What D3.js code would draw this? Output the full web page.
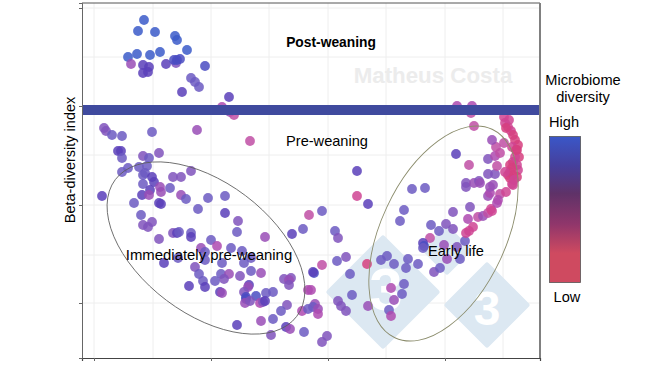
<!DOCTYPE html>
<html>
<head>
<meta charset="utf-8">
<script src="https://cdn.jsdelivr.net/npm/d3@7"></script>
<style>
  body { margin: 0; background: #fff; }
  text { font-family: "Liberation Sans", Arial, sans-serif; }
</style>
</head>
<body>
<div id="chart"></div>
<script>
// each point is [axis 1, axis 2, diversity score 1-10]
const postWeaning = [
  [140,251,4],[148,246,5],[152,243,3],
  [62,338,10],[56,327,10],[73,326,10],[93,322,10],[95,318,10],[105,308,10],[46,301,10],
  [55,304,10],[68,303,10],[78,306,10],[49,294,5],[94,295,6],[61,293,8],[67,291,8],[61,285,8],
  [66,286,8],[84,294,8],[92,298,9],[95,298,9],[98,299,9],[123,292,9],[109,280,7],[113,276,7],
  [117,271,7],[100,266,8],[147,261,8]
];
const preWeaning = [
  [22,230,6],[24,227,6],[30,223,7],[40,222,7],[70,226,7],[115,228,5],[168,217,3],[36,207,8],
  [39,207,8],[40,200,7],[61,202,6],[67,200,7],[77,205,6],[57,191,7],[65,192,7],[46,190,7],
  [40,186,7],[61,183,7],[63,185,7],[70,181,8],[91,181,6],[99,181,6],[109,187,6],[20,162,8],
  [61,174,7],[72,176,8],[68,168,8],[60,163,8],[67,163,5],[78,171,5],[79,166,5],[88,170,7],
  [99,163,5],[104,159,7],[126,160,7],[143,162,7],[52,155,7],[77,155,8],[79,154,8],[116,149,7],
  [143,145,8],[59,143,7],[156,137,6],[70,136,6],[61,133,6],[66,131,6],[155,126,7],[91,125,6],
  [95,125,8],[97,126,7],[109,125,7],[109,121,8],[77,119,6],[183,121,5],[129,118,7],[135,112,4],
  [119,110,5],[149,110,7],[160,107,7],[123,106,7],[169,100,7],[96,100,7],[82,95,8],[123,98,7],
  [140,95,7],[162,95,7],[113,91,6],[169,87,7],[179,85,5],[117,84,7],[139,84,7],[147,84,5],
  [158,82,6],[142,79,6],[133,77,7],[121,77,7],[107,72,8],[123,71,8],[202,79,6],[209,80,6],
  [207,78,5],[207,73,6],[167,73,8],[166,71,5],[162,66,6],[138,66,8],[140,65,5],[184,65,7],
  [191,66,7],[174,62,9],[164,61,9],[164,59,9],[163,55,5],[168,57,6],[178,55,4],[181,56,6],
  [183,57,8],[205,53,6],[199,47,7],[220,47,4],[226,49,7],[191,39,7],[179,37,5],[155,33,8],
  [204,31,8],[208,29,5],[189,23,6],[222,26,7],[210,124,8],[221,129,7],[227,143,3],[226,68,4]
];
const earlyLife = [
  [240,147,7],[253,127,7],[256,120,6],[255,97,7],[264,101,6],[240,93,3],[268,84,7],[285,94,1],
  [299,98,7],[305,102,7],[312,94,7],[326,99,7],[324,90,7],[336,94,7],[318,137,7],[322,148,7],
  [349,133,7],[364,134,6],[357,127,7],[371,129,6],[348,120,3],[341,115,8],[342,112,9],[341,110,7],
  [362,113,5],[375,111,6],[383,117,7],[365,99,5],[378,99,7],[352,86,6],[358,90,7],[322,74,7],
  [320,64,7],[309,70,4],[312,58,5],[307,48,7],[309,42,4],[270,63,7],[256,57,6],[259,52,6],
  [264,47,6],[286,52,5],[232,85,9],[231,86,8],[229,68,4],[233,54,5],[231,51,7],[236,49,5],
  [236,44,4],[245,22,6],[240,16,6],[386,139,4],[371,146,6],[396,141,3],[401,142,5],[406,145,3],
  [410,147,2],[391,131,2],[387,127,2],[384,125,2],[275,187,8],[275,162,2],[286,154,8],[330,169,7],
  [343,170,7],[374,204,8],[387,193,3],[392,232,3],[389,245,3],[375,252,4],[390,252,4],[388,151,6],
  [409,149,2],[415,155,4],[418,164,3],[424,166,2],[430,174,2],[406,162,5],[408,165,4],[411,173,5],
  [408,171,5],[406,184,6],[413,184,6],[384,175,6],[384,171,6],[392,175,5],[397,177,6],[398,175,5],
  [415,192,3],[406,199,6],[413,202,4],[418,205,3],[414,211,3],[410,218,5],[422,215,3],[416,158,4],
  [422,241,2],[423,235,2],[426,231,2],[429,227,2],[431,223,1],[433,218,1],[436,213,1],[435,208,1],
  [430,211,2],[437,201,1],[433,201,2],[431,196,2],[435,193,2],[436,188,2],[428,186,1],[431,183,1],
  [426,183,1],[435,181,1],[428,180,1],[431,173,2],[427,238,2],[424,230,1],[434,208,1],[428,193,1],
  [430,190,1],[423,186,2],[432,178,2]
];
const xTicks = [12, 129, 246, 363];
const xGrid = [12, 71, 129, 187, 246, 304, 363, 421];
const yTicks = [55, 153, 252, 350];
const yGrid = [55, 103, 153, 203, 252, 301, 350];
const clusterLabels = ['Post-weaning', 'Pre-weaning', 'Immediately pre-weaning', 'Early life'];

const width = 650;
const height = 366;
const margin = {top: 3, right: 110, bottom: 8, left: 82};

const xScale = d3.scaleLinear().domain([0, 458]).range([margin.left, width - margin.right]);
const yScale = d3.scaleLinear().domain([0, 355]).range([height - margin.bottom, margin.top]);

// point colours run pink -> magenta -> purple -> blue
const colorScale = d3.scaleLinear()
  .domain([1, 2, 3, 4, 5, 6, 7, 8, 9, 10])
  .range(['#d63f7f', '#cf4493', '#bf4fa5', '#ae4ab0', '#994db6', '#8054bc', '#6c5ac2', '#5a3fba', '#4a4cc2', '#3b5bc9']);

const svg = d3.select('#chart').append('svg')
  .attr('width', width)
  .attr('height', height)
  .style('display', 'block');

// grid
svg.append('g').selectAll('line').data(xGrid).join('line')
  .attr('x1', d => xScale(d)).attr('x2', d => xScale(d))
  .attr('y1', yScale(0)).attr('y2', margin.top)
  .attr('stroke', '#eeeeee');
svg.append('g').selectAll('line').data(yGrid).join('line')
  .attr('x1', xScale(0)).attr('x2', xScale(458))
  .attr('y1', d => yScale(d)).attr('y2', d => yScale(d))
  .attr('stroke', '#eeeeee');

// logo watermark
const logo = svg.append('g');
[[383, 292, 54], [487, 305, 40], [447, 250, 22]].forEach(([cx, cy, r]) => {
  logo.append('path')
    .attr('d', `M${cx},${cy - r}L${cx + r},${cy}L${cx},${cy + r}L${cx - r},${cy}Z`)
    .attr('fill', '#dce8f2')
    .attr('stroke', '#dce8f2')
    .attr('stroke-width', 5)
    .attr('stroke-linejoin', 'round');
});
[[386, 310, 60], [487, 325, 48]].forEach(([x, y, size]) => {
  logo.append('text')
    .attr('x', x)
    .attr('y', y)
    .attr('text-anchor', 'middle')
    .attr('fill', '#fff')
    .style('font-size', size + 'px')
    .style('font-weight', 'bold')
    .text('3');
});
svg.append('text')
  .attr('x', 433).attr('y', 83)
  .attr('text-anchor', 'middle')
  .attr('fill', '#ececec')
  .style('font-size', '22.3px')
  .style('font-weight', 'bold')
  .text('Matheus Costa');

// points
svg.append('g').selectAll('circle')
  .data([...postWeaning, ...preWeaning, ...earlyLife])
  .join('circle')
  .attr('cx', d => xScale(d[0]))
  .attr('cy', d => yScale(d[1]))
  .attr('r', 4.9)
  .attr('fill', d => colorScale(d[2]))
  .attr('fill-opacity', 0.85);

// ellipses around the two early clusters
svg.append('ellipse')
  .attr('rx', 113.6).attr('ry', 65.6)
  .attr('transform', `translate(${xScale(124)},${yScale(110)}) rotate(37)`)
  .attr('fill', 'none').attr('stroke', '#5c5c5c').attr('stroke-width', 0.8);
svg.append('ellipse')
  .attr('rx', 115).attr('ry', 62.5)
  .attr('transform', `translate(${xScale(361.5)},${yScale(124.5)}) rotate(-65)`)
  .attr('fill', 'none').attr('stroke', '#8b8c6c').attr('stroke-width', 0.9);

// band splitting post-weaning from pre-weaning
svg.append('rect')
  .attr('x', xScale(0)).attr('width', xScale(458) - xScale(0))
  .attr('y', yScale(253)).attr('height', yScale(243) - yScale(253))
  .attr('fill', '#3f4a9e');

// frame and axes
const xAxis = d3.axisBottom(xScale).tickValues(xTicks).tickFormat('').tickSize(3);
svg.append('g').attr('transform', `translate(0,${yScale(0)})`).call(xAxis)
  .call(g => g.select('.domain').attr('stroke', '#444').attr('stroke-width', 1.2))
  .call(g => g.selectAll('line').attr('stroke', '#666'));
const yAxis = d3.axisLeft(yScale).tickValues(yTicks).tickFormat('').tickSize(3);
svg.append('g').attr('transform', `translate(${xScale(0)},0)`).call(yAxis)
  .call(g => g.select('.domain').attr('stroke', '#666'))
  .call(g => g.selectAll('line').attr('stroke', '#666'));
svg.append('line')
  .attr('x1', xScale(0)).attr('x2', xScale(458))
  .attr('y1', yScale(355)).attr('y2', yScale(355))
  .attr('stroke', '#555');
svg.append('line')
  .attr('x1', xScale(458)).attr('x2', xScale(458))
  .attr('y1', yScale(355)).attr('y2', yScale(0))
  .attr('stroke', '#808080').attr('stroke-width', 2);

// text labels
svg.append('text').attr('x', 331).attr('y', 46.5).attr('text-anchor', 'middle')
  .style('font-size', '13.8px').style('font-weight', 'bold').text(clusterLabels[0]);
svg.append('text').attr('x', 327).attr('y', 145.5).attr('text-anchor', 'middle')
  .style('font-size', '14.6px').text(clusterLabels[1]);
svg.append('text').attr('x', 209).attr('y', 260).attr('text-anchor', 'middle')
  .style('font-size', '14.9px').text(clusterLabels[2]);
svg.append('text').attr('x', 456).attr('y', 256).attr('text-anchor', 'middle')
  .style('font-size', '14.6px').text(clusterLabels[3]);
svg.append('text')
  .attr('transform', 'translate(75,160) rotate(-90)')
  .attr('text-anchor', 'middle')
  .style('font-size', '14.5px')
  .text('Beta-diversity index');

// legend
const defs = svg.append('defs');
const grad = defs.append('linearGradient')
  .attr('id', 'legend-grad')
  .attr('x1', 0).attr('x2', 0).attr('y1', 0).attr('y2', 1);
[[0, '#3a57c8'], [0.2, '#463f9c'], [0.39, '#5f3268'], [0.6, '#90366b'], [0.8, '#cf4a60'], [1, '#cf4a60']]
  .forEach(([o, c]) => grad.append('stop').attr('offset', o).attr('stop-color', c));
svg.append('rect')
  .attr('x', 549.5).attr('y', 136.5).attr('width', 31).attr('height', 146)
  .attr('fill', 'url(#legend-grad)')
  .attr('stroke', '#555').attr('stroke-width', 0.8);
[['Microbiome', 583, 85], ['diversity', 583, 102], ['High', 564, 127], ['Low', 567, 302]].forEach(([t, x, y]) => {
  svg.append('text').attr('x', x).attr('y', y).attr('text-anchor', 'middle')
    .style('font-size', '14.6px').text(t);
});
</script>
</body>
</html>
